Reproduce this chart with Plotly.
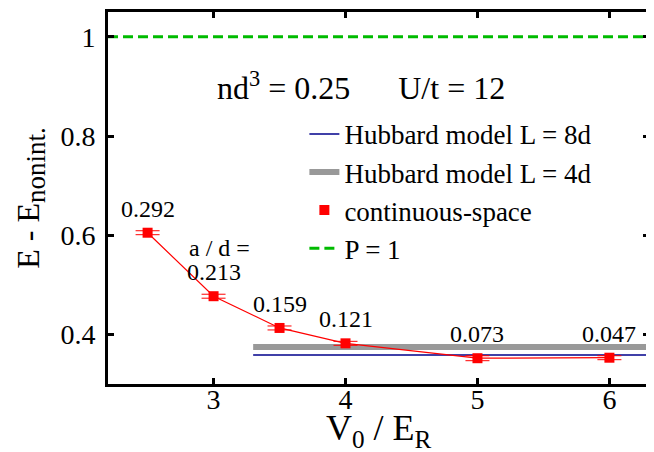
import plotly.graph_objects as go

# data
v0 = [2.5, 3.0, 3.5, 4.0, 5.0, 6.0]
energy = [0.605, 0.477, 0.413, 0.382, 0.352, 0.353]
energy_err = [0.004, 0.004, 0.004, 0.004, 0.005, 0.004]
a_over_d = ["0.292", "0.213", "0.159", "0.121", "0.073", "0.047"]

hub_x = [3.3, 6.3]
hub8_y = [0.3587, 0.3587]
hub4_y = [0.3746, 0.3746]
p1_x = [2.2, 6.3]
p1_y = [1.0, 1.0]

FONT = "Liberation Serif"

fig = go.Figure()

fig.add_trace(go.Scatter(x=hub_x, y=hub8_y, mode="lines",
                         line=dict(color="#00008b", width=1.5),
                         name="Hubbard model L = 8d", legendgroup="a"))
fig.add_trace(go.Scatter(x=hub_x, y=hub4_y, mode="lines",
                         line=dict(color="#999999", width=6),
                         name="Hubbard model L = 4d", legendgroup="b"))
fig.add_trace(go.Scatter(x=v0, y=energy, mode="lines",
                         line=dict(color="red", width=1.2),
                         showlegend=False, hoverinfo="skip"))
fig.add_trace(go.Scatter(x=v0, y=energy, mode="markers",
                         marker=dict(color="red", symbol="square", size=10),
                         error_y=dict(type="data", array=energy_err, color="red",
                                      thickness=1, width=12),
                         name="continuous-space", legendgroup="c"))
fig.add_trace(go.Scatter(x=p1_x, y=p1_y, mode="lines",
                         line=dict(color="#00bb00", width=3, dash="10px,5px"),
                         name="P = 1", legendgroup="d"))

for xv, yv, lab in zip(v0, energy, a_over_d):
    fig.add_annotation(x=xv, y=yv, text=lab, showarrow=False, yshift=24,
                       font=dict(family=FONT, size=24, color="black"))
fig.add_annotation(x=v0[1], y=energy[1], text="a / d =", showarrow=False,
                   xshift=6, yshift=48, font=dict(family=FONT, size=24, color="black"))

fig.add_annotation(x=4.12, y=0.9,
                   text="nd<sup>3</sup> = 0.25\u00a0\u00a0\u00a0\u00a0\u00a0\u00a0U/t = 12",
                   showarrow=False, font=dict(family=FONT, size=32, color="black"))

# x-axis title placed just under the tick labels
fig.add_annotation(xref="paper", yref="paper", x=0.5, y=0, yanchor="middle",
                   yshift=-46, showarrow=False,
                   text="V<sub>0</sub> / E<sub>R</sub>",
                   font=dict(family=FONT, size=36, color="black"))

axis_common = dict(showline=True, linewidth=3, linecolor="black", mirror="ticks",
                   ticks="inside", ticklen=6, tickwidth=3, tickcolor="black",
                   showgrid=False, zeroline=False, automargin=False,
                   tickfont=dict(family=FONT, size=28, color="black"))

fig.update_xaxes(range=[2.2, 6.3], tickvals=[3, 4, 5, 6], ticklabelstandoff=-12,
                 **axis_common)
fig.update_yaxes(range=[0.3, 1.05], tickvals=[0.4, 0.6, 0.8, 1.0], ticktext=["0.4", "0.6", "0.8", "1"],
                 ticklabelstandoff=4,
                 title=dict(text="E - E<sub><span style='font-size:27px'>nonint.</span></sub>",
                            font=dict(family=FONT, size=32, color="black"), standoff=12),
                 **axis_common)

# the page body adds an 8px offset, so margins compensate for it
fig.update_layout(
    width=654, height=452,
    margin=dict(l=100, r=13, t=4, b=76),
    plot_bgcolor="white", paper_bgcolor="white",
    legend=dict(x=0.363, y=0.737, xanchor="left", yanchor="top",
                font=dict(family=FONT, size=27, color="black"),
                bgcolor="rgba(0,0,0,0)", traceorder="grouped", tracegroupgap=0),
    font=dict(family=FONT, color="black"),
)

fig.write_html("out.html")
